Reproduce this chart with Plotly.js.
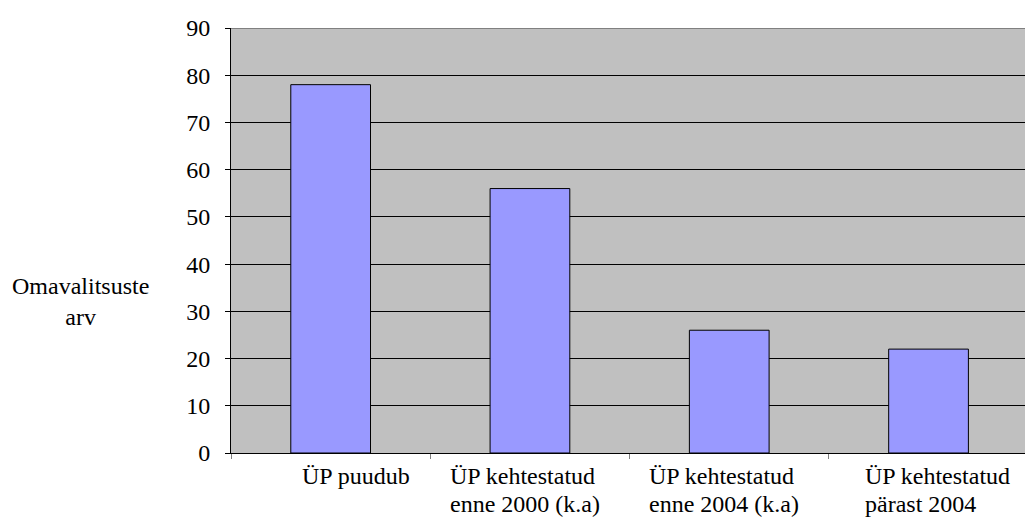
<!DOCTYPE html>
<html>
<head>
<meta charset="utf-8">
<script src="https://cdn.plot.ly/plotly-3.0.1.min.js"></script>
<style>html,body{margin:0;padding:0;background:#fff;}#chart{width:1025px;height:518px;}</style>
</head>
<body>
<div id="chart"></div>
<script>
var categories = ["ÜP puudub", "ÜP kehtestatud enne 2000 (k.a)", "ÜP kehtestatud enne 2004 (k.a)", "ÜP kehtestatud pärast 2004"];
var labelLine1 = ["ÜP puudub", "ÜP kehtestatud", "ÜP kehtestatud", "ÜP kehtestatud"];
var labelLine2 = ["", "enne 2000 (k.a)", "enne 2004 (k.a)", "pärast 2004"];
var values = [78, 56, 26, 22];
var yTickVals = [0, 10, 20, 30, 40, 50, 60, 70, 80, 90];
var yTitleLines = ["Omavalitsuste", "arv"];

var labelShift = [-31, -82, -82, -66];
var FONT = "'Liberation Serif', 'Times New Roman', Times, serif";

var annotations = [];
for (var i = 0; i < categories.length; i++) {
  annotations.push({x: categories[i], xref: 'x', y: 0, yref: 'paper', xanchor: 'left', yanchor: 'top',
    xshift: labelShift[i], yshift: -8, text: labelLine1[i], showarrow: false, align: 'left',
    font: {family: FONT, size: 24, color: '#000'}});
  if (labelLine2[i]) {
    annotations.push({x: categories[i], xref: 'x', y: 0, yref: 'paper', xanchor: 'left', yanchor: 'top',
      xshift: labelShift[i], yshift: -36, text: labelLine2[i], showarrow: false, align: 'left',
      font: {family: FONT, size: 24, color: '#000'}});
  }
}
annotations.push({x: 0, xref: 'paper', y: 32, yref: 'y', xanchor: 'center', yanchor: 'middle',
  xshift: -151, text: yTitleLines.join('<br>'), showarrow: false, align: 'center',
  font: {family: FONT, size: 24, color: '#000'}});

var trace = {
  type: 'bar', x: categories, y: values,
  marker: {color: '#9999FF', line: {color: '#000000', width: 1}},
  hoverinfo: 'none'
};

var layout = {
  width: 1025, height: 518,
  margin: {l: 231, r: 0, t: 28, b: 65, pad: 0},
  paper_bgcolor: '#ffffff', plot_bgcolor: '#C0C0C0',
  bargap: 0.6, showlegend: false,
  font: {family: FONT, size: 24, color: '#000'},
  xaxis: {type: 'category', range: [-0.5, 3.484], showticklabels: false,
    tickson: 'boundaries', ticks: 'outside', ticklen: 5, tickcolor: '#808080',
    showline: true, linecolor: '#000', linewidth: 1, showgrid: false, zeroline: false, fixedrange: true},
  yaxis: {range: [0, 90], tickvals: yTickVals, ticks: 'outside', ticklen: 5, tickcolor: '#000',
    showline: true, linecolor: '#000', linewidth: 1, showgrid: true, gridcolor: '#000', gridwidth: 1,
    zeroline: false, ticklabelstandoff: 10, tickfont: {family: FONT, size: 24, color: '#000'}, fixedrange: true},
  shapes: [{type: 'line', xref: 'paper', yref: 'y', x0: 0, x1: 1, y0: 90, y1: 90,
    line: {color: '#808080', width: 2}, layer: 'above'}],
  annotations: annotations
};

Plotly.newPlot('chart', [trace], layout, {displayModeBar: false, staticPlot: true});
</script>
</body>
</html>
